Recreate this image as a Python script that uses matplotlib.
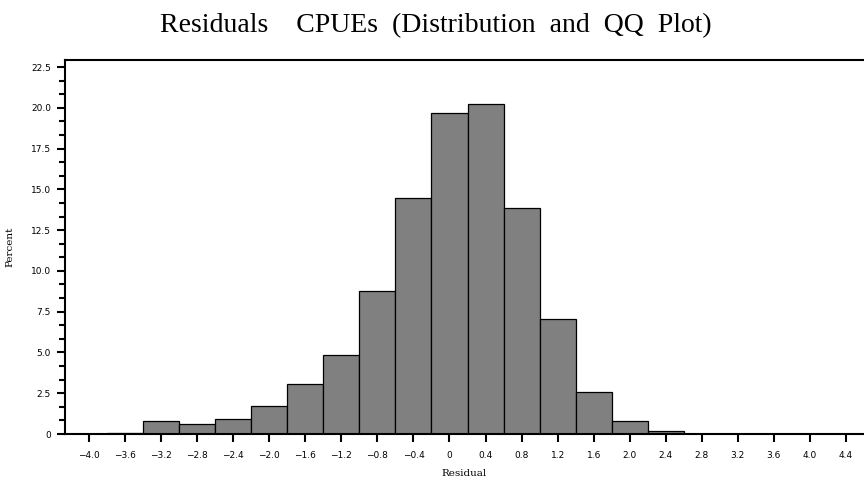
import matplotlib
matplotlib.use("Agg")
import matplotlib.pyplot as plt
from matplotlib.ticker import MultipleLocator

# histogram of residuals, bins centred on the tick marks (width 0.4)
bin_centers = [-3.6, -3.2, -2.8, -2.4, -2.0, -1.6, -1.2, -0.8, -0.4, 0.0,
               0.4, 0.8, 1.2, 1.6, 2.0, 2.4]
percent = [0.08, 0.78, 0.61, 0.93, 1.70, 3.07, 4.83, 8.75, 14.48, 19.71,
           20.25, 13.85, 7.04, 2.56, 0.78, 0.16]

x_ticks = [-4.0, -3.6, -3.2, -2.8, -2.4, -2.0, -1.6, -1.2, -0.8, -0.4, 0.0,
           0.4, 0.8, 1.2, 1.6, 2.0, 2.4, 2.8, 3.2, 3.6, 4.0, 4.4]
x_labels = ["\u22124.0", "\u22123.6", "\u22123.2", "\u22122.8", "\u22122.4", "\u22122.0",
            "\u22121.6", "\u22121.2", "\u22120.8", "\u22120.4", "0", "0.4", "0.8", "1.2",
            "1.6", "2.0", "2.4", "2.8", "3.2", "3.6", "4.0", "4.4"]
y_ticks = [0, 2.5, 5.0, 7.5, 10.0, 12.5, 15.0, 17.5, 20.0, 22.5]
y_labels = ["0", "2.5", "5.0", "7.5", "10.0", "12.5", "15.0", "17.5", "20.0", "22.5"]

fig = plt.figure(figsize=(8.64, 4.87), dpi=100)
ax = fig.add_axes([0.0752, 0.1088, 0.9248, 0.768])

ax.bar(bin_centers, percent, width=0.4, color="#808080", edgecolor="black", linewidth=0.9)

ax.set_xlim(-4.267, 4.6)
ax.set_ylim(0, 22.93)

ax.set_xticks(x_ticks)
ax.set_xticklabels(x_labels, fontsize=6.5)
ax.set_yticks(y_ticks)
ax.set_yticklabels(y_labels, fontsize=6.5)
ax.yaxis.set_minor_locator(MultipleLocator(2.5 / 3))

ax.tick_params(axis="both", which="major", direction="out", length=6, width=1.5, pad=4)
ax.tick_params(axis="y", which="minor", direction="out", length=4, width=1.5)
ax.tick_params(axis="x", which="major", length=6, pad=6)

for side in ["left", "bottom", "top"]:
    ax.spines[side].set_linewidth(1.5)
ax.spines["right"].set_visible(False)

ax.set_xlabel("Residual", fontsize=7.5, family="DejaVu Serif", labelpad=7)
ax.set_ylabel("Percent", fontsize=7.5, family="DejaVu Serif", labelpad=12)

fig.text(0.5045, 1 - 32 / 487, "Residuals    CPUEs  (Distribution  and  QQ  Plot)",
         ha="center", va="baseline", fontsize=20, family="Liberation Serif")

fig.savefig("out.png", dpi=100)
